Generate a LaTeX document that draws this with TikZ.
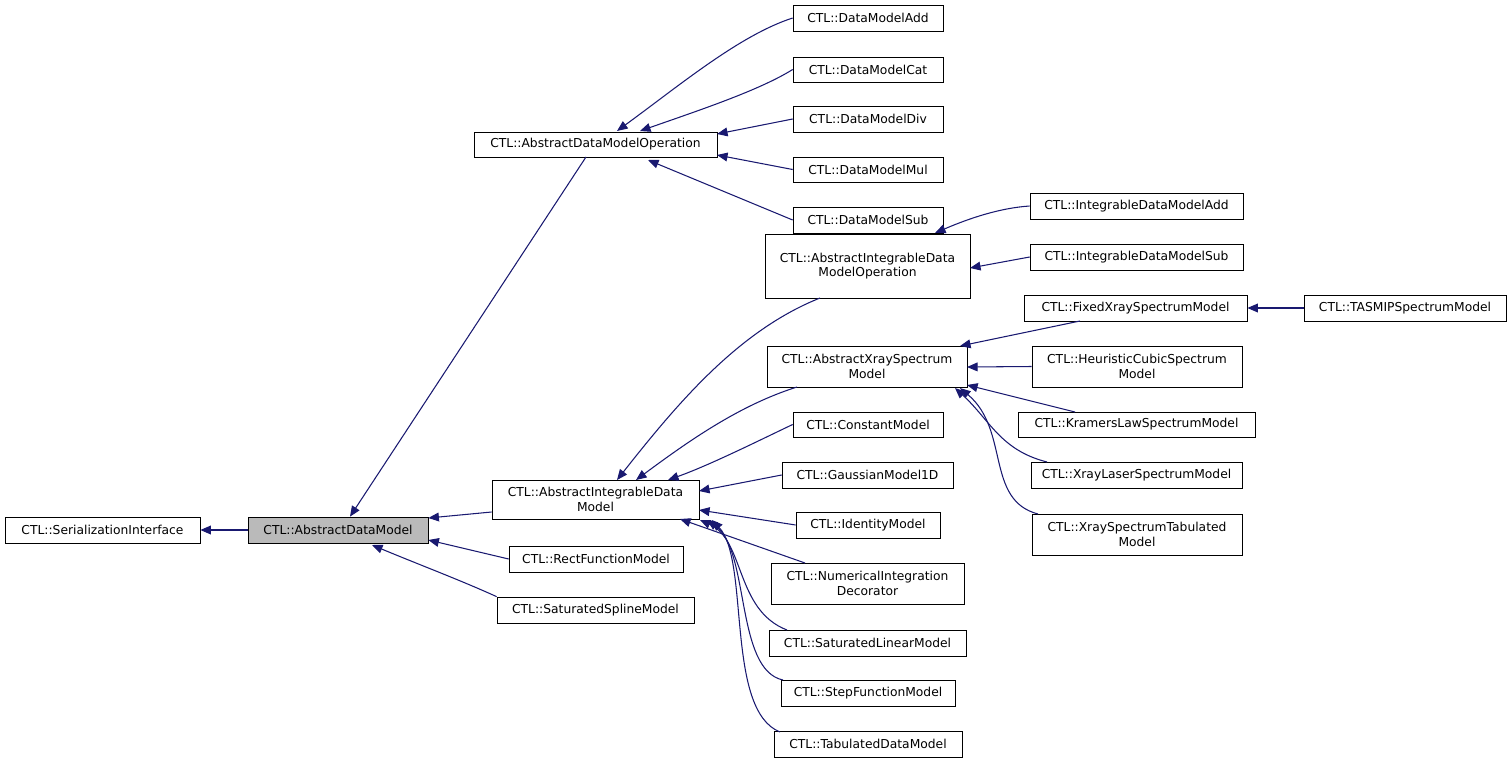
\documentclass[tikz,border=0pt]{standalone}
\usepackage{fontspec}
\setmainfont{DejaVu Sans}
\usetikzlibrary{arrows.meta}
\definecolor{edgeblue}{HTML}{191970}
\tikzset{
  cls/.style={draw=black, thin, inner sep=1pt, align=center, font=\fontsize{7}{8.3}\selectfont},
  edge/.style={draw=edgeblue, semithick, {Triangle[length=6pt,width=5pt]}-}
}
% box from pixel corners: name, left, top, right, bottom, text
\newcommand{\bx}[6]{\node[cls, minimum width={(#4-#2)*0.02cm}, minimum height={(#5-#3)*0.02cm}]
  (#1) at ({(#2+#4)/2},{(#3+#5)/2}) {#6};}
\begin{document}
\begin{tikzpicture}[x=0.02cm,y=-0.02cm]
\useasboundingbox (0,0) rectangle (1512,764);
%left column
\bx{ser}{5}{517}{200}{543}{CTL::SerializationInterface}
\node[cls, fill=black!27, minimum width={180*0.02cm}, minimum height={26*0.02cm}] (adm) at (338,530) {CTL::AbstractDataModel};
\bx{admo}{474}{132}{717}{157}{CTL::AbstractDataModelOperation}
\bx{aidm}{492}{480}{699}{519}{CTL::AbstractIntegrableData\\Model}
\bx{rect}{509}{546}{683}{572}{CTL::RectFunctionModel}
\bx{spline}{497}{597}{694}{623}{CTL::SaturatedSplineModel}
%operations
\bx{add}{793}{5}{943}{31}{CTL::DataModelAdd}
\bx{cat}{793}{57}{943}{82}{CTL::DataModelCat}
\bx{div}{793}{106}{943}{132}{CTL::DataModelDiv}
\bx{mul}{793}{157}{943}{182}{CTL::DataModelMul}
\bx{sub}{793}{207}{943}{233}{CTL::DataModelSub}
%integrable models
\bx{aidmo}{765}{234}{970}{298}{CTL::AbstractIntegrableData\\ModelOperation}
\bx{axsm}{767}{346}{967}{387}{CTL::AbstractXraySpectrum\\Model}
\bx{const}{793}{412}{943}{437}{CTL::ConstantModel}
\bx{gauss}{782}{462}{953}{488}{CTL::GaussianModel1D}
\bx{ident}{796}{512}{940}{538}{CTL::IdentityModel}
\bx{numint}{771}{563}{964}{604}{CTL::NumericalIntegration\\Decorator}
\bx{satlin}{769}{630}{966}{656}{CTL::SaturatedLinearModel}
\bx{step}{781}{680}{955}{706}{CTL::StepFunctionModel}
\bx{tab}{774}{731}{962}{757}{CTL::TabulatedDataModel}
%right column
\bx{iadd}{1030}{193}{1243}{219}{CTL::IntegrableDataModelAdd}
\bx{isub}{1030}{244}{1243}{270}{CTL::IntegrableDataModelSub}
\bx{fixed}{1024}{295}{1247}{321}{CTL::FixedXraySpectrumModel}
\bx{tasmip}{1304}{295}{1506}{321}{CTL::TASMIPSpectrumModel}
\bx{heur}{1032}{346}{1242}{387}{CTL::HeuristicCubicSpectrum\\Model}
\bx{kram}{1018}{412}{1255}{437}{CTL::KramersLawSpectrumModel}
\bx{laser}{1031}{462}{1242}{488}{CTL::XrayLaserSpectrumModel}
\bx{xtab}{1032}{514}{1242}{555}{CTL::XraySpectrumTabulated\\Model}
%edges
\draw[edge] (ser.east) -- (adm.west);
\draw[edge] (adm.north) ++(12,0) -- (586,157);
\draw[edge] (adm.east) ++(0,-12) -- (aidm.west |- 0,512);
\draw[edge] (adm.east) ++(0,10) -- (rect.west);
\draw[edge] (372,545) .. controls (420,565) and (460,580) .. (spline.north west);
\draw[edge] (617,131) .. controls (680,85) and (740,35) .. (add.west);
\draw[edge] (640,131) .. controls (700,110) and (760,90) .. (cat.west);
\draw[edge] (717,134) -- (div.west);
\draw[edge] (717,155) -- (mul.west);
\draw[edge] (648,160) -- (sub.west);
\draw[edge] (617,480) .. controls (680,400) and (740,330) .. (820,298);
\draw[edge] (636,480) .. controls (690,440) and (740,405) .. (797,387);
\draw[edge] (668,480) .. controls (710,465) and (760,440) .. (const.west);
\draw[edge] (699,491) -- (gauss.west);
\draw[edge] (699,510) -- (ident.west);
\draw[edge] (680,519) -- (805,563);
\draw[edge] (700,520) .. controls (745,540) and (735,610) .. (787,630);
\draw[edge] (707,520) .. controls (750,550) and (735,670) .. (783,680);
\draw[edge] (712,520) .. controls (750,560) and (725,710) .. (780,732);
\draw[edge] (935,233) .. controls (970,218) and (1000,208) .. (iadd.west);
\draw[edge] (970,268) -- (isub.west);
\draw[edge] (960,346) -- (1080,321);
\draw[edge] (967,367) -- (heur.west);
\draw[edge] (967,385) -- (1075,412);
\draw[edge] (955,388) .. controls (990,420) and (1000,450) .. (1047,462);
\draw[edge] (960,388) .. controls (1010,430) and (985,500) .. (1038,514);
\draw[edge] (fixed.east) -- (tasmip.west);
\end{tikzpicture}
\end{document}
